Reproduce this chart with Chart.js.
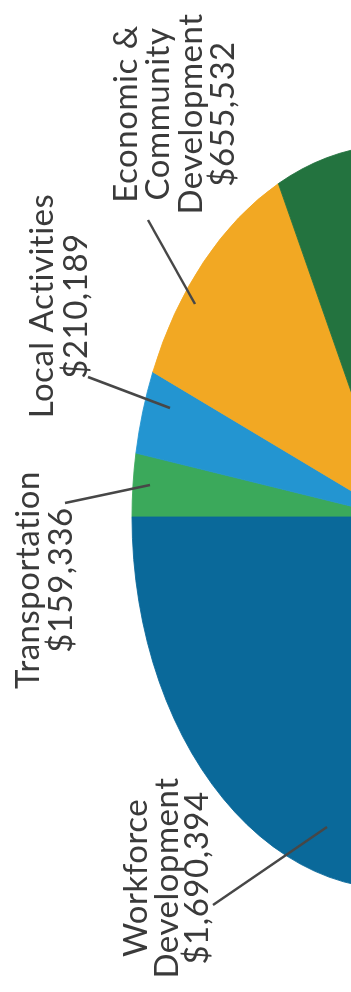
<!DOCTYPE html>
<html>
<head>
<meta charset="utf-8">
<title>Program Spending</title>
<script src="https://cdn.jsdelivr.net/npm/chart.js@4.4.1/dist/chart.umd.min.js"></script>
<style>
    html, body { margin: 0; padding: 0; background: #fff; overflow: hidden; }
    #wrap { position: relative; width: 351px; height: 992px; overflow: hidden; }
    #myChart { position: absolute; left: 0; top: 0; }
</style>
</head>
<body>
<div id="wrap"><canvas id="myChart" width="790" height="992"></canvas></div>
<script>
// slices go clockwise starting from the left edge of the pie
const categories = [
    ['Transportation'],
    ['Local Activities'],
    ['Economic &', 'Community', 'Development'],
    ['Other Programs'],
    ['Workforce', 'Development']
];
const amounts = [159336, 210189, 655532, 3080000, 1690394];
const colors = ['#3ba95b', '#2395d1', '#f2a823', '#23733f', '#0a699a'];

// where each callout sits: baseline of first line, centre along the text, line gap, leader line
const callouts = [
    { x: 39, y: 580, gap: 33, leader: [65, 503, 150, 485] },
    { x: 53, y: 306, gap: 34, leader: [88, 377, 170, 408] },
    { x: 137, y: 114, gap: 32.3, leader: [148, 220, 195, 304] },
    null,
    { x: 147, y: 878, gap: 30.5, leader: [213, 905, 327, 827] }
];

const tilt = 0.707; // pie is seen at an angle, so it is squeezed sideways

const money = v => '$' + v.toLocaleString('en-US');

const squeeze = {
    id: 'squeeze',
    beforeDatasetsDraw(chart) {
        const ctx = chart.ctx;
        const cx = (chart.chartArea.left + chart.chartArea.right) / 2;
        ctx.save();
        ctx.translate(cx, 0);
        ctx.scale(tilt, 1);
        ctx.translate(-cx, 0);
    },
    afterDatasetsDraw(chart) {
        chart.ctx.restore();
    }
};

const sideLabels = {
    id: 'sideLabels',
    afterDraw(chart) {
        const ctx = chart.ctx;
        const labels = chart.data.labels;
        const values = chart.data.datasets[0].data;
        ctx.save();
        callouts.forEach((c, i) => {
            if (!c) return;
            const [x1, y1, x2, y2] = c.leader;
            ctx.strokeStyle = '#474747';
            ctx.lineWidth = 2.5;
            ctx.beginPath();
            ctx.moveTo(x1, y1);
            ctx.lineTo(x2, y2);
            ctx.stroke();

            const lines = labels[i].concat([money(values[i])]);
            ctx.fillStyle = '#3a3a3a';
            ctx.font = '400 33px Lato';
            ctx.letterSpacing = '0.5px';
            ctx.textAlign = 'center';
            ctx.textBaseline = 'alphabetic';
            lines.forEach((t, k) => {
                ctx.save();
                ctx.translate(c.x + k * c.gap, c.y);
                ctx.rotate(-Math.PI / 2);
                ctx.fillText(t, 0, 0);
                ctx.restore();
            });
        });
        ctx.restore();
    }
};

const ctx = document.getElementById('myChart').getContext('2d');

new Chart(ctx, {
    type: 'pie',
    data: {
        labels: categories,
        datasets: [{
            data: amounts,
            backgroundColor: colors,
            borderColor: colors,
            borderWidth: 1
        }]
    },
    options: {
        responsive: false,
        animation: false,
        rotation: 270,
        radius: 372,
        layout: {
            padding: { top: 145, bottom: 103, left: 23, right: 23 }
        },
        plugins: {
            legend: { display: false },
            tooltip: { enabled: false }
        }
    },
    plugins: [squeeze, sideLabels]
});
</script>
</body>
</html>
